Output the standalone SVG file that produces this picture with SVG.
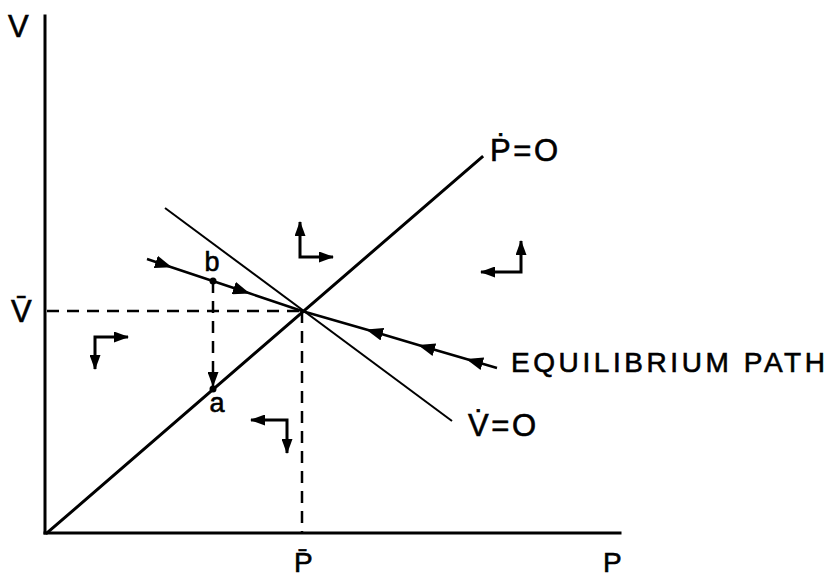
<svg xmlns="http://www.w3.org/2000/svg" width="829" height="580" viewBox="0 0 829 580">
<style>
.ax{stroke:#000;stroke-width:3;fill:none;stroke-linecap:square}
.thin{stroke:#000;stroke-width:2;fill:none}
.eq{stroke:#000;stroke-width:2.5;fill:none}
.dash{stroke:#000;stroke-width:2.5;fill:none;stroke-dasharray:12 8}
.ph{stroke:#000;stroke-width:3;fill:none;marker-start:url(#ah);marker-end:url(#ah)}
.t{font-family:"Liberation Sans","DejaVu Sans",sans-serif;fill:#000;stroke:#000;stroke-width:0.6}
</style>
<defs>
<marker id="ah" viewBox="0 0 15 11" refX="14" refY="5.5" markerWidth="15" markerHeight="11" markerUnits="userSpaceOnUse" orient="auto-start-reverse">
<path d="M0,0 L15,5.5 L0,11 z" fill="#000"/>
</marker>
<marker id="mh" viewBox="0 0 17 13" refX="15" refY="6.5" markerWidth="17" markerHeight="13" markerUnits="userSpaceOnUse" orient="auto">
<path d="M0,0 L17,6.5 L0,13 z" fill="#000"/>
</marker>
</defs>
<g id="axes">
<line class="ax" x1="45" y1="16" x2="45" y2="533"/>
<line class="ax" x1="45" y1="533" x2="620" y2="533"/>
<text class="t" x="8" y="37" font-size="31">V</text>
<text class="t" x="603" y="572" font-size="28">P</text>
</g>
<g id="connectors">
<line class="dash" x1="47" y1="311" x2="302" y2="311"/>
<line class="dash" x1="302" y1="311" x2="302" y2="533"/>
<line class="dash" x1="213" y1="281" x2="213" y2="386" marker-end="url(#ah)"/>
<polyline class="eq" points="147,259 170,266.7 248,292.8 302,311" marker-mid="url(#mh)"/>
<polyline class="eq" points="497,368 468,359.5 420,345.5 368,330 302,311" marker-mid="url(#mh)"/>
</g>
<g id="p-dot-zero">
<line class="ax" x1="47" y1="533" x2="482" y2="157"/>
<text class="t" x="490" y="161" font-size="31" textLength="68" lengthAdjust="spacing">Ṗ = O</text>
</g>
<g id="v-dot-zero">
<line class="thin" x1="165" y1="208" x2="452" y2="421"/>
<text class="t" x="465" y="436" font-size="31" textLength="68" lengthAdjust="spacing">V̇ = O</text>
</g>
<g id="equilibrium-path-label">
<text class="t" x="511" y="372" font-size="28" textLength="314" lengthAdjust="spacing">EQUILIBRIUM PATH</text>
</g>
<g id="v-bar">
<text class="t" x="11" y="322" font-size="31">V̄</text>
</g>
<g id="p-bar">
<text class="t" x="294" y="572" font-size="28">P̄</text>
</g>
<g id="point-b">
<circle cx="213" cy="281" r="3.5" fill="#000"/>
<text class="t" x="212" y="271" font-size="27" text-anchor="middle">b</text>
</g>
<g id="point-a">
<circle cx="213" cy="389" r="3.5" fill="#000"/>
<text class="t" x="217" y="412" font-size="27" text-anchor="middle">a</text>
</g>
<g id="phase-arrows">
<path id="arrow-left" class="ph" d="M128,337 L95,337 L95,369"/>
<path id="arrow-top" class="ph" d="M300,222 L300,257 L333,257"/>
<path id="arrow-right" class="ph" d="M481,272 L521,272 L521,241"/>
<path id="arrow-bottom" class="ph" d="M251,420 L287,420 L287,453"/>
</g>
</svg>
